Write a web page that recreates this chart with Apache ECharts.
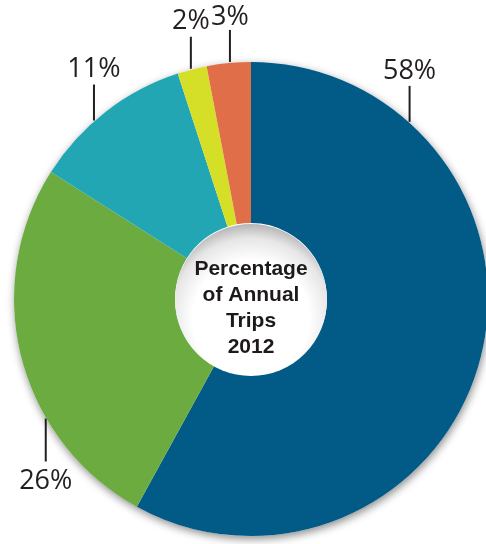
<!DOCTYPE html>
<html>
<head>
<meta charset="utf-8">
<script src="https://cdn.jsdelivr.net/npm/echarts@6/dist/echarts.min.js"></script>
<style>
html,body{margin:0;padding:0;background:#fff;}
#main{width:486px;height:544px;}
</style>
</head>
<body>
<div id="main"></div>
<script>
const categories = ['Share 1', 'Share 2', 'Share 3', 'Share 4', 'Share 5'];
const values = [58, 26, 11, 2, 3];
const valueLabels = ['58%', '26%', '11%', '2%', '3%'];
const centerTitle = ['Percentage', 'of Annual', 'Trips', '2012'];

const colors = ['#025a86', '#6bab40', '#23a6b3', '#d6df27', '#e06f49'];
const CX = 251, CY = 299, R_OUT = 237, R_IN = 76;
// label anchor angle (deg clockwise from top), leader length, text gap
const labelAngles = [42, 240, 318.5, 345.3, 354.9];
const lineLens = [37, 44, 37, 33, 33];
const textGaps = [15, 20, 15, 15, 13];

const chart = echarts.init(document.getElementById('main'), null, {renderer: 'canvas'});

chart.setOption({
  backgroundColor: '#ffffff',
  animation: false,
  series: [
    {
      type: 'pie',
      silent: true,
      z: 1,
      center: [CX, CY],
      radius: [0, R_OUT],
      label: {show: false},
      labelLine: {show: false},
      data: [{value: 1, itemStyle: {color: '#ffffff', shadowBlur: 9, shadowColor: 'rgba(0,0,0,0.45)', shadowOffsetX: 1, shadowOffsetY: 3}}]
    },
    {
      type: 'pie',
      z: 2,
      center: [CX, CY],
      radius: [R_IN, R_OUT],
      startAngle: 90,
      clockwise: true,
      avoidLabelOverlap: false,
      itemStyle: {borderWidth: 0},
      emphasis: {disabled: true},
      data: categories.map((c, i) => ({
        name: c,
        value: values[i],
        itemStyle: {color: colors[i]},
        label: {formatter: valueLabels[i]}
      })),
      label: {
        show: true,
        position: 'outside',
        color: '#231f20',
        fontFamily: 'Open Sans',
        fontSize: 27,
        fontWeight: 'normal'
      },
      labelLine: {
        show: true,
        length: 10,
        length2: 10,
        lineStyle: {color: '#231f20', width: 2}
      },
      labelLayout: function (p) {
        const i = p.dataIndex;
        const a = labelAngles[i] * Math.PI / 180;
        const ax = CX + R_OUT * Math.sin(a);
        const ay = CY - R_OUT * Math.cos(a);
        const dir = ay < CY ? -1 : 1;
        const y1 = ay + dir * 1;
        const y2 = ay + dir * lineLens[i];
        const ty = y2 + dir * textGaps[i];
        return {
          x: ax,
          y: ty,
          align: 'center',
          verticalAlign: 'middle',
          labelLinePoints: [[ax, y1], [ax, (y1 + y2) / 2], [ax, y2]]
        };
      }
    }
  ],
  graphic: [
    {
      type: 'circle',
      z: 100,
      silent: true,
      shape: {cx: CX, cy: CY + 1, r: R_IN},
      style: {
        fill: {
          type: 'radial', x: 0.5, y: 0.62, r: 0.62,
          colorStops: [
            {offset: 0, color: '#ffffff'},
            {offset: 0.62, color: '#ffffff'},
            {offset: 0.85, color: '#e6e6e6'},
            {offset: 1, color: '#b5b5b5'}
          ]
        }
      }
    },
    {
      type: 'text',
      z: 101,
      silent: true,
      x: CX,
      y: CY + 9,
      style: {
        text: centerTitle.join('\n'),
        fill: '#1e1a1b',
        font: 'bold 21px "Liberation Sans", Arial, sans-serif',
        lineHeight: 26,
        align: 'center',
        verticalAlign: 'middle'
      }
    }
  ]
});
</script>
</body>
</html>
